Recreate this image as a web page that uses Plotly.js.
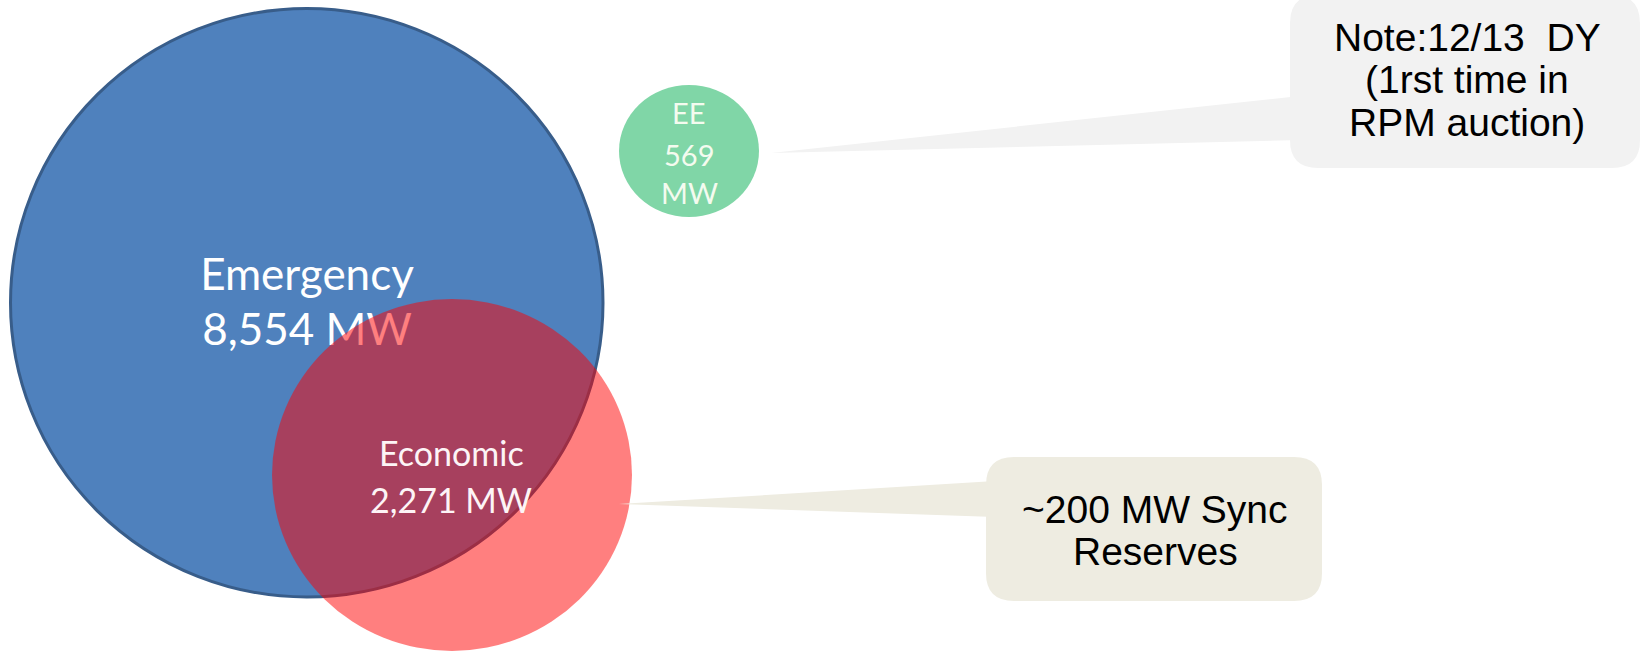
<!DOCTYPE html>
<html>
<head>
<meta charset="utf-8">
<script src="https://cdn.plot.ly/plotly-3.0.1.min.js"></script>
<style>
  html, body { margin: 0; padding: 0; background: #ffffff; }
  #chart { width: 1642px; height: 653px; }
</style>
</head>
<body>
<div id="chart"></div>
<script>
// ---- data ----
const categories = ["Emergency", "Economic", "EE"];
const capacityMW = [8554, 2271, 569];
const unitLabel = "MW";
const noteLines = ["Note:12/13  DY", "(1rst time in", "RPM auction)"];
const syncLines = ["~200 MW Sync", "Reserves"];

// ---- layout constants (pixel space) ----
const W = 1642, H = 653;
const fmt = v => v.toLocaleString("en-US");

// ellipse geometry for each category
const geo = {
  Emergency: { x0: 10.5, x1: 603, y0: 8.5, y1: 597, fill: "#4f81bd", line: { color: "#385d8a", width: 3 }, layer: "below" },
  Economic:  { x0: 272, x1: 632, y0: 299, y1: 651, fill: "rgba(255,0,0,0.5)", line: { width: 0 }, layer: "above" },
  EE:        { x0: 619, x1: 759, y0: 85, y1: 217, fill: "#80d6a7", line: { width: 0 }, layer: "below" }
};

const emIdx = categories.indexOf("Emergency");
const ecIdx = categories.indexOf("Economic");
const eeIdx = categories.indexOf("EE");

const emLines = [categories[emIdx], fmt(capacityMW[emIdx]) + " " + unitLabel];
const ecLines = [categories[ecIdx], fmt(capacityMW[ecIdx]) + " " + unitLabel];
const eeLines = [categories[eeIdx], fmt(capacityMW[eeIdx]), unitLabel];

const shapes = [];
categories.forEach(c => {
  const g = geo[c];
  shapes.push({ type: "circle", xref: "x", yref: "y", x0: g.x0, x1: g.x1, y0: g.y0, y1: g.y1,
    fillcolor: g.fill, line: g.line, layer: g.layer });
});

function roundRect(x0, y0, x1, y1, r) {
  return `M ${x0 + r} ${y0} L ${x1 - r} ${y0} Q ${x1} ${y0} ${x1} ${y0 + r} L ${x1} ${y1 - r} Q ${x1} ${y1} ${x1 - r} ${y1} ` +
         `L ${x0 + r} ${y1} Q ${x0} ${y1} ${x0} ${y1 - r} L ${x0} ${y0 + r} Q ${x0} ${y0} ${x0 + r} ${y0} Z`;
}

// callout pointers and boxes
shapes.push({ type: "path", xref: "x", yref: "y", path: "M 771 153 L 1300 96 L 1300 140 Z",
  fillcolor: "#f2f2f2", line: { width: 0 }, layer: "above" });
shapes.push({ type: "path", xref: "x", yref: "y", path: roundRect(1290, -5, 1640, 168, 28),
  fillcolor: "#f2f2f2", line: { width: 0 }, layer: "above" });
shapes.push({ type: "path", xref: "x", yref: "y", path: "M 619 504 L 995 481 L 995 517 Z",
  fillcolor: "#eeece1", line: { width: 0 }, layer: "above" });
shapes.push({ type: "path", xref: "x", yref: "y", path: roundRect(986, 457, 1322, 601, 28),
  fillcolor: "#eeece1", line: { width: 0 }, layer: "above" });

// Emergency label is a text trace so that the translucent red ellipse lies over it
const emTrace = {
  type: "scatter", mode: "text",
  x: [307, 307], y: [279, 334],
  text: emLines,
  textposition: "middle center",
  textfont: { family: "Lato, 'Open Sans', sans-serif", size: 44, color: "#ffffff" },
  hoverinfo: "skip", showlegend: false, cliponaxis: false
};

const annotations = [];
function addLines(lines, xc, ys, font) {
  lines.forEach((t, i) => annotations.push({
    xref: "x", yref: "y", x: xc, y: ys[i], text: t, showarrow: false,
    xanchor: "center", yanchor: "middle", font: font
  }));
}
addLines(ecLines, 451, [452, 499], { family: "Lato, 'Open Sans', sans-serif", size: 34, color: "#fdf4f6" });
addLines(eeLines, 689, [112, 154, 192], { family: "Lato, 'Open Sans', sans-serif", size: 29, color: "#f4fbef" });
addLines(noteLines, 1467, [37, 79, 122], { family: "'Liberation Sans', Arial, sans-serif", size: 39, color: "#000000" });
addLines(syncLines, 1155, [509, 551], { family: "'Liberation Sans', Arial, sans-serif", size: 39, color: "#000000" });

const layout = {
  width: W, height: H,
  margin: { l: 0, r: 0, t: 0, b: 0, pad: 0 },
  paper_bgcolor: "#ffffff", plot_bgcolor: "#ffffff",
  xaxis: { range: [0, W], visible: false, fixedrange: true },
  yaxis: { range: [H, 0], visible: false, fixedrange: true },
  shapes: shapes,
  annotations: annotations,
  showlegend: false
};

Plotly.newPlot("chart", [emTrace], layout, { displayModeBar: false, staticPlot: true });
</script>
</body>
</html>
